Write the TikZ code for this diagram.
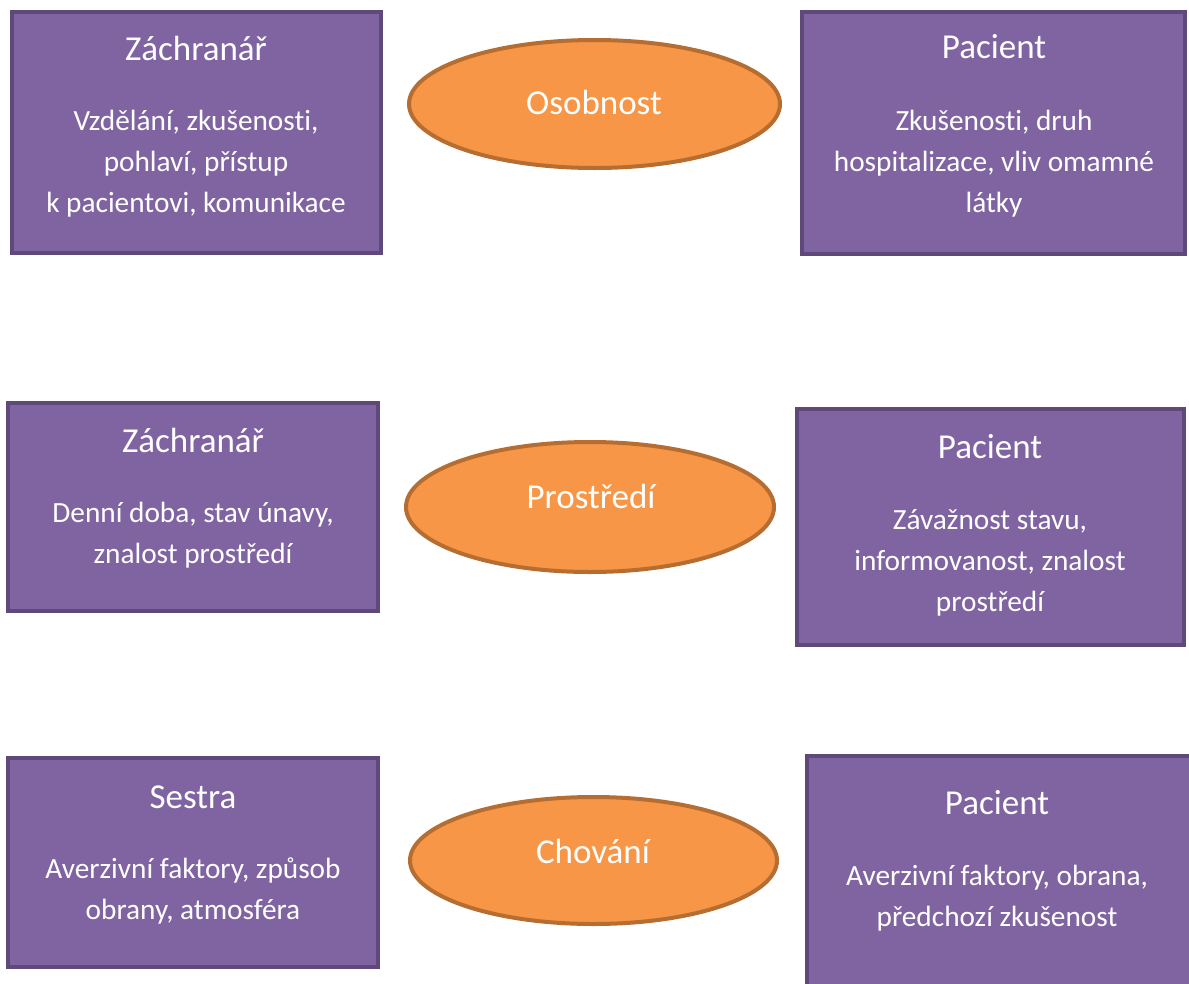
\documentclass[tikz,border=0pt]{standalone}
\usepackage{fontspec}
\setmainfont[Ligatures={NoCommon}]{Carlito}
\usepackage{tikz}
\usetikzlibrary{shapes}

\definecolor{boxfill}{HTML}{8064A2}
\definecolor{boxline}{HTML}{5F497A}
\definecolor{ovalfill}{HTML}{F79646}
\definecolor{ovalline}{HTML}{B66D31}

\begin{document}
\begin{tikzpicture}[x=1pt,y=-1pt,every node/.style = {inner sep=0pt, text=white}]

\tikzstyle{factor_box}=[rectangle, draw=boxline, fill=boxfill, line width=4pt]
\tikzstyle{theme_oval}=[ellipse, draw=ovalline, fill=ovalfill, line width=4pt]
\tikzstyle{title_text}=[font=\fontsize{35}{42}\selectfont]
\tikzstyle{body_text}=[align=center, font=\fontsize{29.3}{41}\selectfont]

\useasboundingbox (0,0) rectangle (1189,983);
\clip (0,0) rectangle (1189,983);

% osobnost
\node[factor_box, minimum width=369pt, minimum height=241pt] (resc1) at (196.5,132.5) {};
\node[title_text] (resc1_title) at (196,48) {Záchranář};
\node[body_text] (resc1_body) at (196,164) {Vzdělání, zkušenosti,\\ pohlaví, přístup\\ k pacientovi, komunikace};

\node[theme_oval, minimum width=371pt, minimum height=128pt] (personality) at (594.5,104) {};
\node[title_text] (personality_text) at (594,102) {Osobnost};

\node[factor_box, minimum width=383pt, minimum height=242pt] (pat1) at (993.5,133) {};
\node[title_text] (pat1_title) at (994,47) {Pacient};
\node[body_text] (pat1_body) at (994,164) {Zkušenosti, druh\\ hospitalizace, vliv omamné\\ látky};

% prostredi
\node[factor_box, minimum width=370pt, minimum height=208pt] (resc2) at (193,507) {};
\node[title_text] (resc2_title) at (193,440) {Záchranář};
\node[body_text] (resc2_body) at (193,535.5) {Denní doba, stav únavy,\\ znalost prostředí};

\node[theme_oval, minimum width=368pt, minimum height=130pt] (environment) at (590,507) {};
\node[title_text] (environment_text) at (591,496) {Prostředí};

\node[factor_box, minimum width=387pt, minimum height=236pt] (pat2) at (990.5,527) {};
\node[title_text] (pat2_title) at (990,447) {Pacient};
\node[body_text] (pat2_body) at (990,562.5) {Závažnost stavu,\\ informovanost, znalost\\ prostředí};

% chovani
\node[factor_box, minimum width=370pt, minimum height=209pt] (nurse) at (193,862.5) {};
\node[title_text] (nurse_title) at (193,797) {Sestra};
\node[body_text] (nurse_body) at (193,891) {Averzivní faktory, způsob\\ obrany, atmosféra};

\node[theme_oval, minimum width=367pt, minimum height=127pt] (behaviour) at (593.5,860.5) {};
\node[title_text] (behaviour_text) at (593,851) {Chování};

\node[factor_box, minimum width=386pt, minimum height=242pt] (pat3) at (1000,877) {};
\node[title_text] (pat3_title) at (997,803) {Pacient};
\node[body_text] (pat3_body) at (997,898) {Averzivní faktory, obrana,\\ předchozí zkušenost};

\end{tikzpicture}
\end{document}
